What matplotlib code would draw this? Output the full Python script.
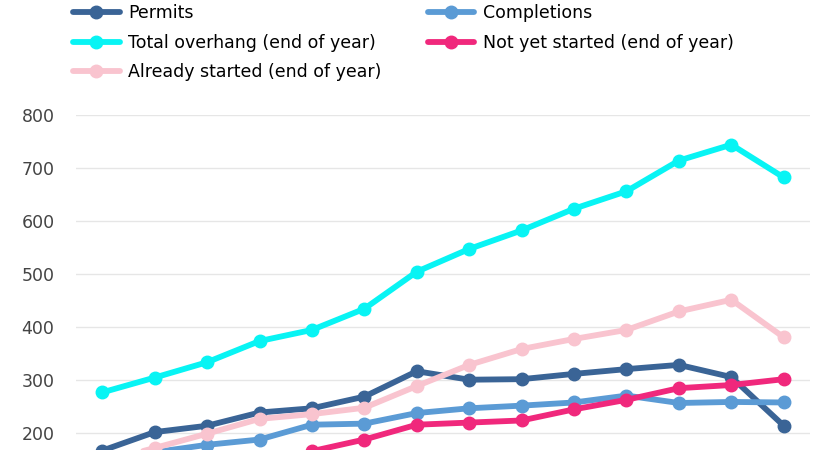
import matplotlib.pyplot as plt
import numpy as np

years = [str(y) for y in range(2008, 2022)]
permits = [166, 201, 213, 238, 246, 268, 316, 300, 301, 311, 320, 328, 305, 213]
completions = [150, 163, 177, 187, 215, 217, 237, 246, 251, 257, 270, 256, 258, 257]
total_overhang = [276, 304, 333, 373, 394, 434, 504, 547, 582, 623, 656, 714, 744, 682]
not_started = [110, 105, 118, 140, 165, 187, 215, 219, 223, 244, 262, 284, 290, 301]
already_started = [145, 171, 198, 226, 235, 247, 288, 328, 358, 377, 394, 429, 451, 380]

plt.rcParams['font.family'] = ['DejaVu Sans']

fig = plt.figure(figsize=(8.25, 4.5), dpi=100)
# bottom of chart is cropped in the reference, axes runs below the figure
ax = fig.add_axes([76 / 825, -0.1967, 734 / 825, 0.7444 + 0.1967])

x = np.arange(len(years))
series = [
    (permits, 'Permits', '#3a6496'),
    (completions, 'Completions', '#5b9bd5'),
    (total_overhang, 'Total overhang (end of year)', '#08f4f4'),
    (not_started, 'Not yet started (end of year)', '#f0287c'),
    (already_started, 'Already started (end of year)', '#f9c4cf'),
]
lines = []
for vals, name, col in series:
    ln, = ax.plot(x, vals, color=col, lw=4.2, marker='o', ms=9, label=name,
                  solid_capstyle='round')
    lines.append(ln)

ax.set_xlim(-0.5, len(years) - 0.5)
ax.set_ylim(0, 800)
# only the ticks that show above the crop
ax.set_yticks(range(200, 801, 100))
ax.set_xticks(x)
ax.set_xticklabels(years)
ax.grid(axis='y', color='#e6e6e6', lw=1)
ax.set_axisbelow(True)
for s in ax.spines.values():
    s.set_visible(False)
ax.tick_params(axis='y', length=0, pad=15.5, labelsize=12.5, labelcolor='#444444')
ax.tick_params(axis='x', length=0, labelbottom=False)

# legend filled row by row: reorder for column-wise fill
order = [0, 2, 4, 1, 3]
fig.legend([lines[i] for i in order], [series[i][1] for i in order],
           loc='upper left', bbox_to_anchor=(64 / 825, 1.01), ncol=2,
           frameon=False, fontsize=12.5, handlelength=2.7, handletextpad=0.5,
           labelspacing=0.66, columnspacing=2.65, borderpad=0)

fig.savefig('out.png', dpi=100)
